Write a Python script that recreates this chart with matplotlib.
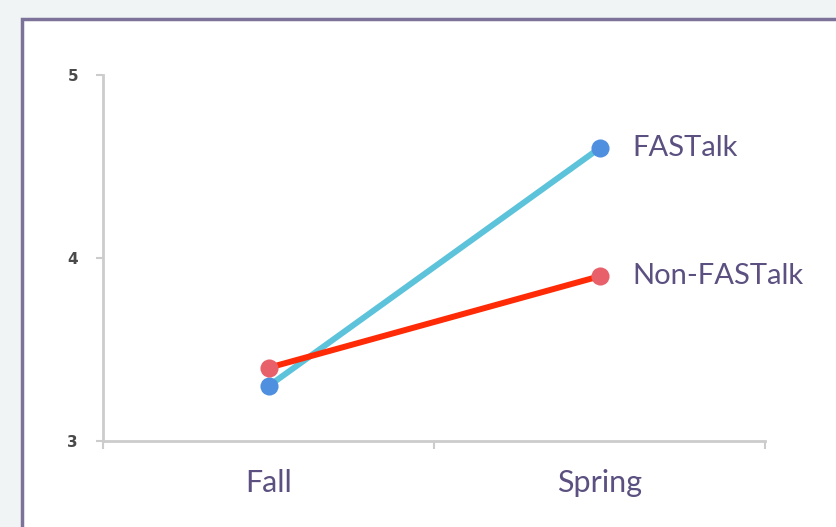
import matplotlib.pyplot as plt
from matplotlib.patches import Rectangle

seasons = ['Fall', 'Spring']
fastalk = [3.3, 4.6]
non_fastalk = [3.4, 3.9]
series_names = ['FASTalk', 'Non-FASTalk']
y_ticks = [3, 4, 5]

fig = plt.figure(figsize=(8.36, 5.27), dpi=100)
fig.patch.set_facecolor('#f1f4f5')

# white panel with purple border, running off the right and bottom edges
panel = Rectangle((22 / 836, -0.1), 1.0, 1 - 19 / 527 + 0.1, transform=fig.transFigure,
                  facecolor='white', edgecolor='#7d7299', linewidth=2.5, zorder=-1)
fig.add_artist(panel)

ax = fig.add_axes([103 / 836, 1 - 441 / 527, (765 - 103) / 836, (441 - 75) / 527])
ax.set_facecolor('none')
ax.set_zorder(1)

x = list(range(len(seasons)))
ax.plot(x, fastalk, color='#5cc3da', linewidth=4.3, solid_capstyle='round', zorder=2)
ax.plot(x, non_fastalk, color='#ff2a06', linewidth=4.3, solid_capstyle='round', zorder=3)
ax.scatter(x, fastalk, s=170, color='#4f8fe0', zorder=4, linewidths=0)
ax.scatter(x, non_fastalk, s=170, color='#e8616a', zorder=5, linewidths=0)

ax.set_xlim(-0.5, 1.5)
ax.set_ylim(3, 5)
ax.set_yticks(y_ticks)
ax.set_yticklabels([str(t) for t in y_ticks], fontsize=11, fontweight='bold', color='#4a4a4a')
ax.set_xticks([-0.5, 0.5, 1.5])
ax.set_xticklabels([])
ax.set_xticks(x, minor=True)
ax.set_xticklabels(seasons, minor=True, fontsize=22, color='#5b5080', family='Lato')
ax.tick_params(axis='x', which='minor', length=0, pad=20)
ax.tick_params(axis='x', which='major', length=6, width=1.5, color='#cccccc')
ax.tick_params(axis='y', length=5, width=1.5, color='#cccccc', pad=13)

for side in ['top', 'right']:
    ax.spines[side].set_visible(False)
for side in ['left', 'bottom']:
    ax.spines[side].set_color('#cccccc')
    ax.spines[side].set_linewidth(2)

ax.text(1.1, fastalk[1], series_names[0], fontsize=21, color='#5b5080', va='center', family='Lato')
ax.text(1.1, non_fastalk[1], series_names[1], fontsize=21, color='#5b5080', va='center', family='Lato')

fig.savefig('out.png', dpi=100, facecolor=fig.get_facecolor())
